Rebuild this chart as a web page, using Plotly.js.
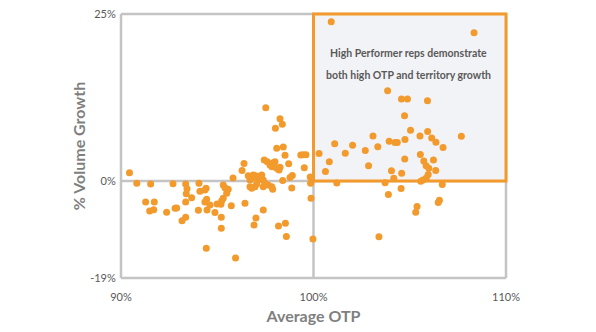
<!DOCTYPE html>
<html>
<head>
<meta charset="utf-8">
<script src="https://cdn.plot.ly/plotly-3.0.1.min.js"></script>
<style>html,body{margin:0;padding:0;background:#fff;}#chart{width:596px;height:332px;}</style>
</head>
<body>
<div id="chart"></div>
<script>
// Average OTP (%) per rep
const otp = [
  90.44, 90.82, 91.54, 92.70, 93.36, 94.05, 93.43, 93.39, 93.67, 94.10,
  94.36, 94.42, 93.36, 94.45, 94.36, 91.28, 91.73, 91.49, 91.70, 92.37,
  92.81, 92.89, 93.17, 93.36, 94.02, 94.47, 94.62, 94.88, 94.99, 95.19,
  95.31, 95.40, 95.57, 95.49, 95.31, 95.23, 95.73, 95.21, 95.21, 94.43,
  95.95, 95.82, 96.29, 96.39, 96.44,
  97.52, 98.26, 98.38, 98.02, 98.09, 98.43, 98.52, 97.44, 97.60, 97.74,
  97.84, 97.91, 98.00, 98.09, 98.21, 98.26, 98.71, 99.34, 99.47, 99.61,
  99.52, 98.90, 98.78, 98.40, 99.83, 99.85, 96.61, 96.70, 96.79, 96.87,
  97.05, 97.22, 97.31, 97.13, 97.39, 97.48, 97.65, 97.83, 97.88, 96.70,
  96.79, 96.96, 97.05, 97.39, 98.87, 99.87, 97.39, 97.01, 96.91, 98.18,
  98.54, 98.59, 99.97,
  100.92, 108.34, 100.29, 100.82, 100.62, 101.10, 101.65, 102.03, 102.69, 102.86,
  101.21, 103.85, 104.57, 104.88, 105.92, 104.73, 105.04, 105.93, 103.09, 105.53,
  106.14, 106.36, 106.73, 107.68, 103.93, 104.23, 104.35, 104.75, 103.34, 104.74,
  105.55, 105.73, 105.85, 105.99, 106.23, 106.35, 104.05, 104.58, 104.17, 105.96,
  105.86, 105.69, 105.57, 103.72, 106.69, 104.55, 103.89, 106.54, 106.48, 105.38,
  105.31, 103.40
];
// % Volume Growth per rep
const growth = [
  1.24, -0.34, -0.45, -0.40, -0.45, -0.34, -1.15, -1.90, -2.50, -1.54,
  -1.35, -1.09, -3.14, -2.74, -3.14, -3.14, -3.14, -4.49, -4.30, -4.69,
  -4.09, -4.04, -5.94, -5.43, -4.39, -4.34, -3.59, -4.72, -3.44, -3.49,
  -0.60, -1.00, -1.24, -1.84, -2.59, -2.95, -3.70, -5.43, -7.08, -10.07,
  -11.53, 0.45, 1.57, 2.62, -3.34,
  10.97, 9.33, 8.49, 7.89, 4.90, 5.09, 3.85, 3.14, 2.89, 2.40,
  2.14, 2.74, 2.89, 1.90, 1.65, 2.05, 2.59, 3.89, 3.94, 3.94,
  1.99, 0.82, 0.52, 0.07, 0.60, -0.34, 0.79, 0.15, 0.40, 0.90,
  0.75, 0.55, 0.90, 0.15, 0.15, -0.34, -0.60, -0.85, -1.24, -0.85,
  -1.09, -0.85, -0.45, -0.85, -1.05, -2.59, -4.34, -5.54, -6.59, -6.74,
  -6.33, -8.31, -8.68,
  23.85, 22.20, 4.12, 2.89, 1.42, 5.58, 4.15, 5.36, 4.57, 2.29,
  -0.30, 13.50, 12.28, 12.28, 12.01, 9.76, 7.59, 7.41, 6.74, 6.74,
  6.44, 5.79, 5.01, 6.69, 5.94, 5.76, 5.76, 6.21, 5.12, 3.29,
  3.97, 2.99, 2.28, 1.90, 3.14, 1.57, 1.53, 1.15, 0.40, 0.97,
  0.45, 0.15, -0.03, -0.25, -0.52, -1.12, -2.02, -2.89, -3.22, -3.82,
  -4.69, -8.34
];
const xTickVals = [90, 100, 110];
const xTickText = ['90%', '100%', '110%'];
const yTickVals = [-14.52, 0, 25];
const yTickText = ['-19%', '0%', '25%'];
const calloutLines = ['High Performer reps demonstrate', 'both high OTP and territory growth'];

const xMin = xTickVals[0], xMid = xTickVals[1], xMax = xTickVals[2];
const yMin = yTickVals[0], yMid = yTickVals[1], yMax = yTickVals[2];
const yZeroFrac = (yMid - yMin) / (yMax - yMin);
const xMidFrac = (xMid - xMin) / (xMax - xMin);

const gray = '#c4c4c4';
const orange = '#F39A2D';

const trace = {
  x: otp, y: growth, type: 'scatter', mode: 'markers',
  marker: {color: orange, size: 7, line: {width: 0}},
  hoverinfo: 'skip', cliponaxis: false
};

const grayLine = (x0, y0, x1, y1) => ({type: 'line', xref: 'paper', yref: 'paper',
  x0: x0, y0: y0, x1: x1, y1: y1, layer: 'below', line: {color: gray, width: 2.5}});

const layout = {
  width: 596, height: 332,
  margin: {l: 121, r: 90, t: 14, b: 54},
  paper_bgcolor: '#ffffff', plot_bgcolor: 'rgba(0,0,0,0)',
  showlegend: false,
  font: {family: 'Lato, "Liberation Sans", sans-serif', color: '#595959', size: 11},
  xaxis: {
    range: [xMin, xMax], showgrid: false, zeroline: false, showline: false,
    tickvals: xTickVals, ticktext: xTickText, ticks: 'outside', ticklen: 9, tickcolor: 'rgba(0,0,0,0)',
    tickfont: {size: 11, color: '#595959'},
    title: {text: 'Average OTP', font: {size: 16, color: '#7f7f7f', family: 'Lato, sans-serif', weight: 'bold'}, standoff: 8}
  },
  yaxis: {
    range: [yMin, yMax], showgrid: false, zeroline: false, showline: false,
    tickvals: yTickVals, ticktext: yTickText, ticks: 'outside', ticklen: 2, tickcolor: 'rgba(0,0,0,0)',
    tickfont: {size: 11, color: '#595959'},
    title: {text: '% Volume Growth', font: {size: 16, color: '#7f7f7f', family: 'Lato, sans-serif', weight: 'bold'}, standoff: 0}
  },
  shapes: [
    grayLine(0, 0, 0, 1),
    grayLine(0, 0, 1, 0),
    grayLine(0, 1, 1, 1),
    grayLine(1, 0, 1, 1),
    grayLine(0, yZeroFrac, 1, yZeroFrac),
    grayLine(xMidFrac, 0, xMidFrac, 1),
    {type: 'rect', xref: 'paper', yref: 'paper', x0: xMidFrac, x1: 1, y0: yZeroFrac, y1: 1,
      layer: 'below', fillcolor: '#f2f3f6', line: {color: orange, width: 3}}
  ],
  annotations: [
    {x: 104.94, y: 19.12, xref: 'x', yref: 'y', text: '<b>' + calloutLines[0] + '</b>', showarrow: false,
      font: {size: 10.5, color: '#595959'}, xanchor: 'center', yanchor: 'middle'},
    {x: 104.94, y: 15.87, xref: 'x', yref: 'y', text: '<b>' + calloutLines[1] + '</b>', showarrow: false,
      font: {size: 10.5, color: '#595959'}, xanchor: 'center', yanchor: 'middle'}
  ]
};

Plotly.newPlot('chart', [trace], layout, {displayModeBar: false, staticPlot: true});
</script>
</body>
</html>
